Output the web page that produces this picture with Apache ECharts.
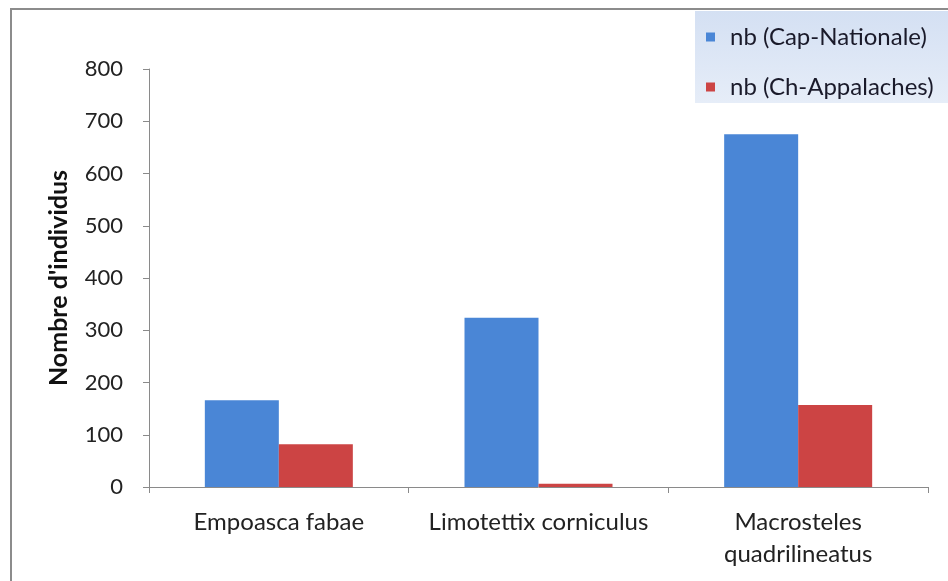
<!DOCTYPE html>
<html><head><meta charset="utf-8">
<script src="https://cdn.jsdelivr.net/npm/echarts@6/dist/echarts.min.js"></script>
<style>html,body{margin:0;padding:0;background:#fff}#c{width:948px;height:581px}</style>
</head><body><div id="c"></div>
<script>
var categories = ['Empoasca fabae', 'Limotettix corniculus', 'Macrosteles\nquadrilineatus'];
var capNationale = [166, 324, 675];
var chAppalaches = [82, 6, 157];
var seriesNames = ['nb (Cap-Nationale)', 'nb (Ch-Appalaches)'];
var yTicks = {min: 0, max: 800, interval: 100};

var chart = echarts.init(document.getElementById('c'));
var font = 'Lato, "Open Sans", sans-serif';
chart.setOption({
  animation: false,
  backgroundColor: '#fff',
  graphic: [
    {type: 'rect', z: -10, shape: {x: 11, y: 9, width: 1000, height: 1000},
     style: {fill: 'none', stroke: '#8c8c8c', lineWidth: 2}},
    {type: 'rect', z: -5, shape: {x: 695, y: 11, width: 253, height: 92},
     style: {fill: new echarts.graphic.LinearGradient(0, 0, 0, 1, [
       {offset: 0, color: '#d4e0f3'}, {offset: 1, color: '#e6edf8'}]), stroke: 'none'}}
  ],
  legend: {
    orient: 'vertical', left: 706, top: 24, padding: 0,
    itemWidth: 9, itemHeight: 9, itemGap: 24,
    icon: 'rect',
    textStyle: {fontFamily: font, fontSize: 24, color: '#1a1a2a', lineHeight: 26, padding: [0, 0, 0, 10]},
    data: seriesNames
  },
  grid: {left: 149, right: 20, top: 69, bottom: 94},
  xAxis: {
    type: 'category', data: categories,
    axisLine: {lineStyle: {color: '#8a8a8a', width: 1}},
    axisTick: {show: true, length: 6, lineStyle: {color: '#8a8a8a'}},
    axisLabel: {fontFamily: font, fontSize: 24, color: '#222', margin: 19, lineHeight: 32, interval: 0}
  },
  yAxis: {
    type: 'value', min: yTicks.min, max: yTicks.max, interval: yTicks.interval,
    name: "Nombre d'individus", nameLocation: 'middle', nameGap: 78, nameRotate: 90,
    nameTextStyle: {fontFamily: font, fontSize: 25, fontWeight: 'bold', color: '#111'},
    axisLine: {show: true, lineStyle: {color: '#8a8a8a', width: 1}},
    axisTick: {show: true, length: 6, lineStyle: {color: '#8a8a8a'}},
    splitLine: {show: false},
    axisLabel: {fontFamily: font, fontSize: 22, color: '#222', margin: 26}
  },
  series: [
    {name: seriesNames[0], type: 'bar', data: capNationale, barWidth: 74, barGap: '0%',
     itemStyle: {color: '#4a86d6'}},
    {name: seriesNames[1], type: 'bar', data: chAppalaches, barWidth: 74, barGap: '0%',
     itemStyle: {color: '#cc4444'}}
  ]
});
</script></body></html>
